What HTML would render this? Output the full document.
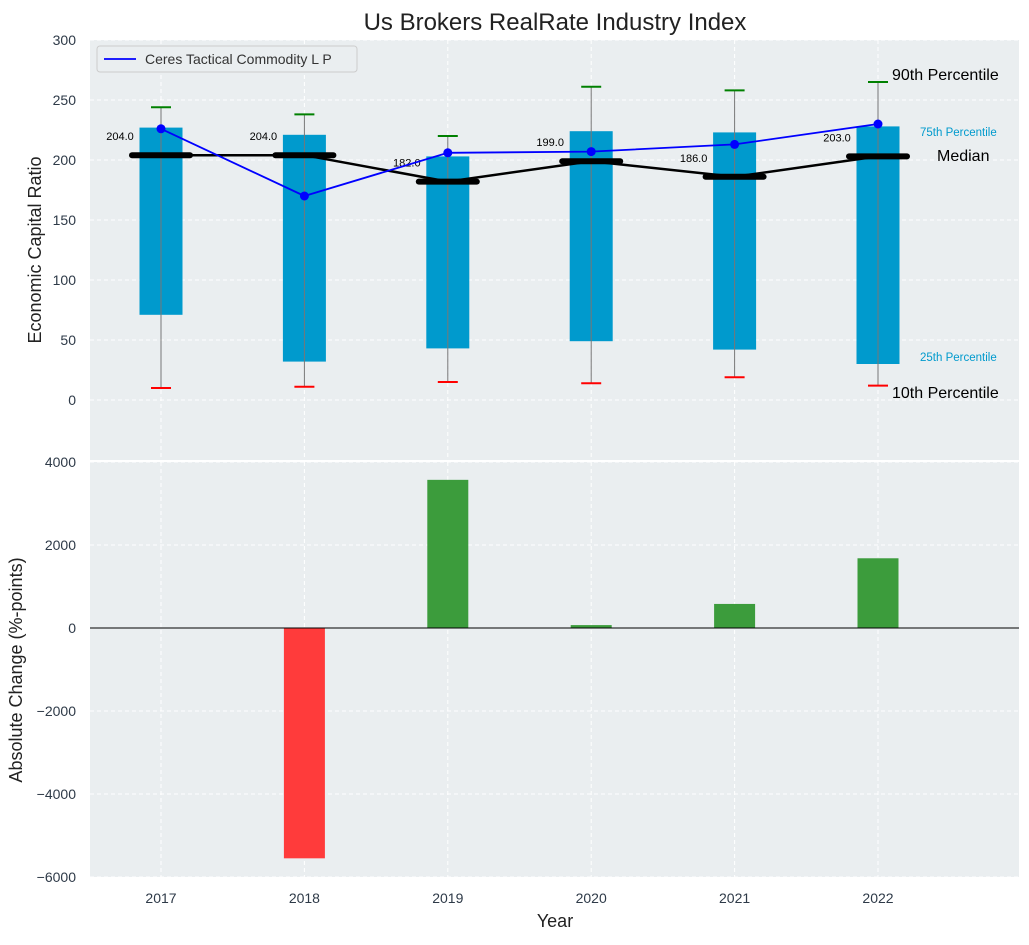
<!DOCTYPE html>
<html><head><meta charset="utf-8"><style>
body{margin:0;background:#fff;font-family:"Liberation Sans",sans-serif;}
svg text{font-family:"Liberation Sans",sans-serif;}
</style></head><body>
<svg id="c" width="1029" height="940" viewBox="0 0 1029 940" xmlns="http://www.w3.org/2000/svg"></svg>
<script>
const years=["2017","2018","2019","2020","2021","2022"];
const p10=[10,11,15,14,19,12];
const p25=[71,32,43,49,42,30];
const medians=[204,204,182,199,186,203];
const p75=[227,221,203,224,223,228];
const p90=[244,238,220,261,258,265];
const company=[226,170,206,207,213,230];
const changes=[0,-5550,3570,70,580,1680];
const topTicks=[0,50,100,150,200,250,300];
const botTicks=[-6000,-4000,-2000,0,2000,4000];

const NS="http://www.w3.org/2000/svg";
const svg=document.getElementById('c');
function el(t,a,p){const e=document.createElementNS(NS,t);for(const k in a)e.setAttribute(k,a[k]);(p||svg).appendChild(e);return e;}
const L=90,R=1019;
const x=i=>161+i*143.4;
const yT=v=>400-v*1.2;
const yB=v=>628-v*0.0415;
const bw=43;
const fmt=v=>String(v).replace('-','\u2212');

let bg1=el('rect',{x:L,y:40,width:R-L,height:420,fill:'#eaeef0'});

let bg2=el('rect',{x:L,y:462,width:R-L,height:415,fill:'#eaeef0'});


topTicks.forEach(v=>{
 el('line',{x1:L,x2:R,y1:yT(v),y2:yT(v),stroke:'#fff','stroke-dasharray':'4,3','stroke-width':1});
 const t=el('text',{x:76,y:yT(v)+5,'text-anchor':'end','font-size':14,fill:'#2e3a48'});t.textContent=fmt(v);
 
});
botTicks.forEach(v=>{
 el('line',{x1:L,x2:R,y1:yB(v),y2:yB(v),stroke:'#fff','stroke-dasharray':'4,3','stroke-width':1});
 const t=el('text',{x:76,y:yB(v)+5,'text-anchor':'end','font-size':14,fill:'#2e3a48'});t.textContent=fmt(v);
 
});
years.forEach((yr,i)=>{
 el('line',{x1:x(i),x2:x(i),y1:40,y2:460,stroke:'#fff','stroke-dasharray':'4,3'});
 el('line',{x1:x(i),x2:x(i),y1:462,y2:877,stroke:'#fff','stroke-dasharray':'4,3'});
 const t=el('text',{x:x(i),y:903,'text-anchor':'middle','font-size':14,fill:'#2e3a48'});t.textContent=yr;
 
});

years.forEach((yr,i)=>{
 const b=el('rect',{x:x(i)-bw/2,y:yT(p75[i]),width:bw,height:yT(p25[i])-yT(p75[i]),fill:'#009acd'});
 
 const w=el('line',{x1:x(i),x2:x(i),y1:yT(p90[i]),y2:yT(p10[i]),stroke:'#777','stroke-width':1});
 
 el('line',{x1:x(i)-10,x2:x(i)+10,y1:yT(p90[i]),y2:yT(p90[i]),stroke:'green','stroke-width':2});
 el('line',{x1:x(i)-10,x2:x(i)+10,y1:yT(p10[i]),y2:yT(p10[i]),stroke:'red','stroke-width':2});
});
let mp=medians.map((m,i)=>x(i)+','+yT(m)).join(' ');
let ml=el('polyline',{points:mp,fill:'none',stroke:'#000','stroke-width':2.5});

medians.forEach((m,i)=>{
 const s=el('line',{x1:x(i)-29,x2:x(i)+29,y1:yT(m),y2:yT(m),stroke:'#000','stroke-width':6,'stroke-linecap':'round'});
 
 const t=el('text',{x:x(i)-41,y:yT(m)-15,'text-anchor':'middle','font-size':11,fill:'#000'});t.textContent=m.toFixed(1);
 
});
let cp=company.map((v,i)=>x(i)+','+yT(v)).join(' ');
let cl=el('polyline',{points:cp,fill:'none',stroke:'#0000ff','stroke-width':1.8});

company.forEach((v,i)=>{const c=el('circle',{cx:x(i),cy:yT(v),r:4.5,fill:'#0000ff'});
 });

[['90th Percentile',892,80,16,'#000'],['75th Percentile',920,136,11.5,'#009acd'],['Median',937,161,16,'#000'],['25th Percentile',920,361,11.5,'#009acd'],['10th Percentile',892,398,16,'#000']].forEach(a=>{
 const t=el('text',{x:a[1],y:a[2],'font-size':a[3],fill:a[4]});t.textContent=a[0];
 
});

const lg=el('g',{});
el('rect',{x:97,y:46,width:260,height:26,fill:'#eaeef0',stroke:'#ccc',rx:3},lg);
el('line',{x1:104,x2:136,y1:59,y2:59,stroke:'#0000ff','stroke-width':1.8},lg);
const lt=el('text',{x:145,y:64,'font-size':14,fill:'#333'},lg);lt.textContent='Ceres Tactical Commodity L P';

changes.forEach((v,i)=>{
 const y0=yB(Math.max(v,0)),h=Math.abs(yB(v)-yB(0));
 const b=el('rect',{x:x(i)-20.5,y:y0,width:41,height:h,fill:v>=0?'#3c9c3c':'#ff3b3b'});
 
});
el('line',{x1:L,x2:R,y1:yB(0),y2:yB(0),stroke:'#000','stroke-width':1});

const tt=el('text',{x:555,y:30,'text-anchor':'middle','font-size':24,fill:'#222'});tt.textContent='Us Brokers RealRate Industry Index';

const y1=el('text',{x:0,y:0,'text-anchor':'middle','font-size':18,fill:'#222',transform:'translate(41,250) rotate(-90)'});y1.textContent='Economic Capital Ratio';

const y2=el('text',{x:0,y:0,'text-anchor':'middle','font-size':18,fill:'#222',transform:'translate(22,670) rotate(-90)'});y2.textContent='Absolute Change (%-points)';

const xt=el('text',{x:555,y:927,'text-anchor':'middle','font-size':18,fill:'#222'});xt.textContent='Year';

</script>
</body></html>
